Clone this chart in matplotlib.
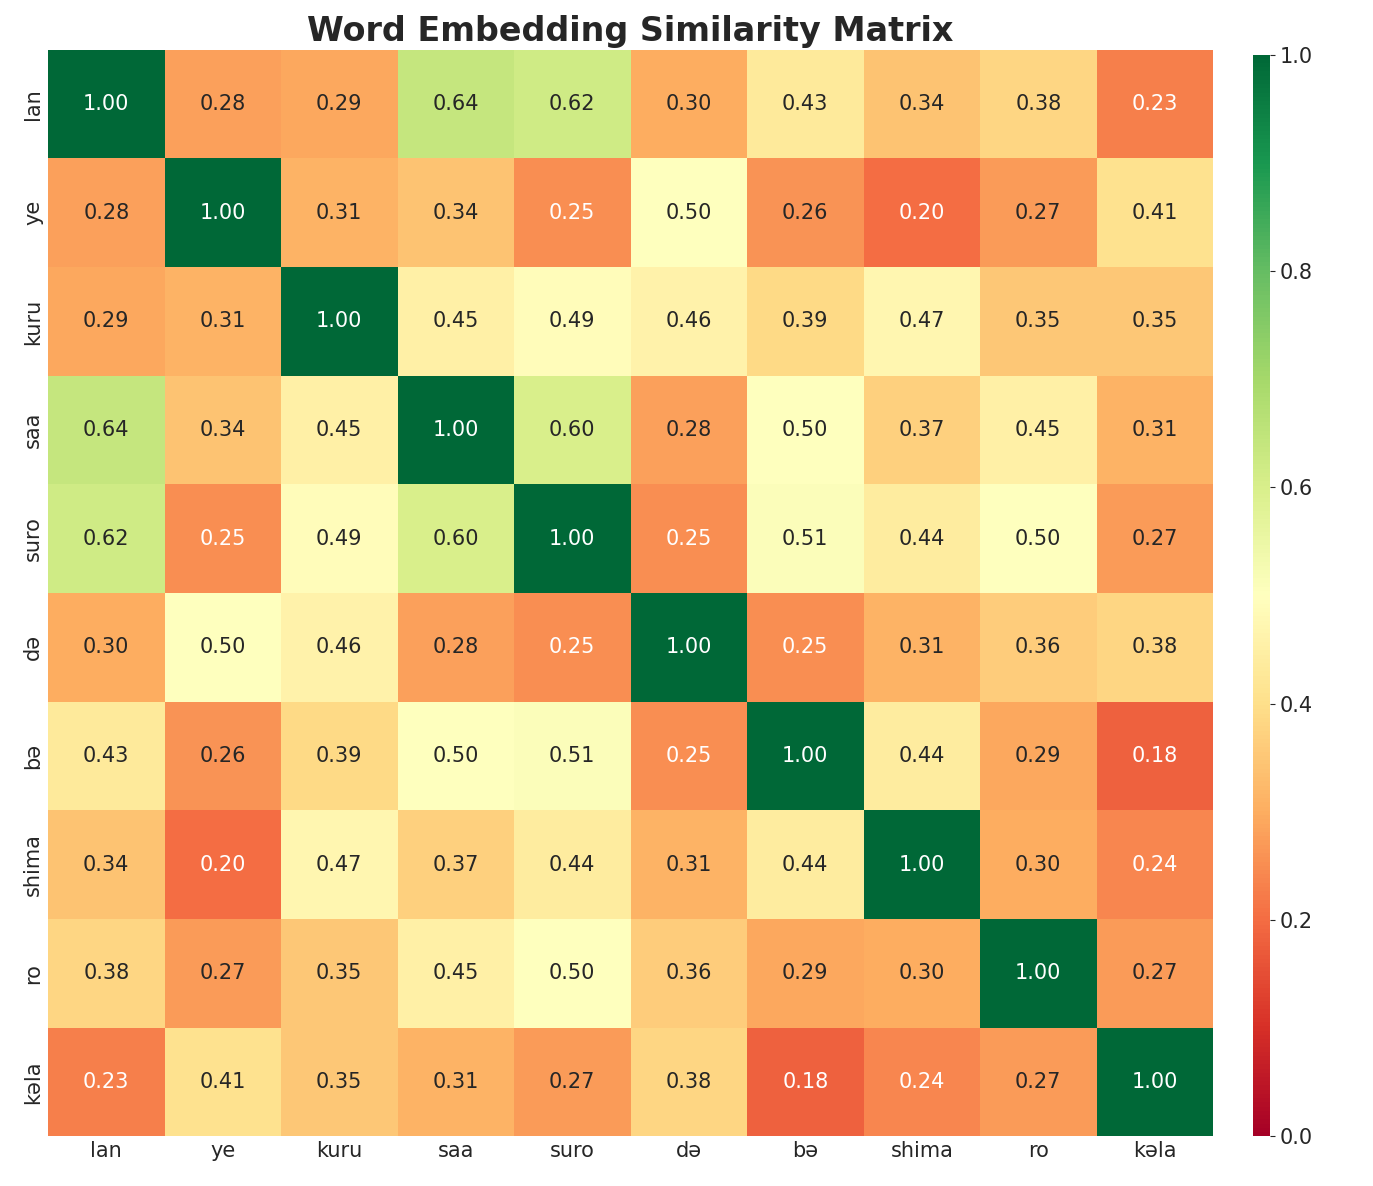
import numpy as np
import matplotlib
matplotlib.use("Agg")
import matplotlib.pyplot as plt
import seaborn as sns

# words on both axes
words = ['lan', 'ye', 'kuru', 'saa', 'suro', 'də', 'bə', 'shima', 'ro', 'kəla']

# similarity rows
row_lan   = [1.00, 0.28, 0.29, 0.64, 0.62, 0.30, 0.43, 0.34, 0.38, 0.23]
row_ye    = [0.28, 1.00, 0.31, 0.34, 0.25, 0.50, 0.26, 0.20, 0.27, 0.41]
row_kuru  = [0.29, 0.31, 1.00, 0.45, 0.49, 0.46, 0.39, 0.47, 0.35, 0.35]
row_saa   = [0.64, 0.34, 0.45, 1.00, 0.60, 0.28, 0.50, 0.37, 0.45, 0.31]
row_suro  = [0.62, 0.25, 0.49, 0.60, 1.00, 0.25, 0.51, 0.44, 0.50, 0.27]
row_de    = [0.30, 0.50, 0.46, 0.28, 0.25, 1.00, 0.25, 0.31, 0.36, 0.38]
row_be    = [0.43, 0.26, 0.39, 0.50, 0.51, 0.25, 1.00, 0.44, 0.29, 0.18]
row_shima = [0.34, 0.20, 0.47, 0.37, 0.44, 0.31, 0.44, 1.00, 0.30, 0.24]
row_ro    = [0.38, 0.27, 0.35, 0.45, 0.50, 0.36, 0.29, 0.30, 1.00, 0.27]
row_kela  = [0.23, 0.41, 0.35, 0.31, 0.27, 0.38, 0.18, 0.24, 0.27, 1.00]

sim = np.array([row_lan, row_ye, row_kuru, row_saa, row_suro,
                row_de, row_be, row_shima, row_ro, row_kela])

sns.set_style("white")
plt.rcParams['font.family'] = ['DejaVu Sans']

fig = plt.figure(figsize=(13.73, 11.86), dpi=100)
ax = fig.add_axes([0.035, 0.042, 0.8485, 0.916])
cax = fig.add_axes([0.9126, 0.042, 0.0124, 0.912])

sns.heatmap(sim, ax=ax, cbar_ax=cax, cmap='RdYlGn', vmin=0, vmax=1,
            annot=True, fmt='.2f', annot_kws={'fontsize': 15},
            xticklabels=words, yticklabels=words)

ax.set_title("Word Embedding Similarity Matrix", fontsize=24, fontweight='bold')
ax.tick_params(axis='both', labelsize=15, length=0)
cax.tick_params(labelsize=15)

fig.savefig("out.png", dpi=100)
